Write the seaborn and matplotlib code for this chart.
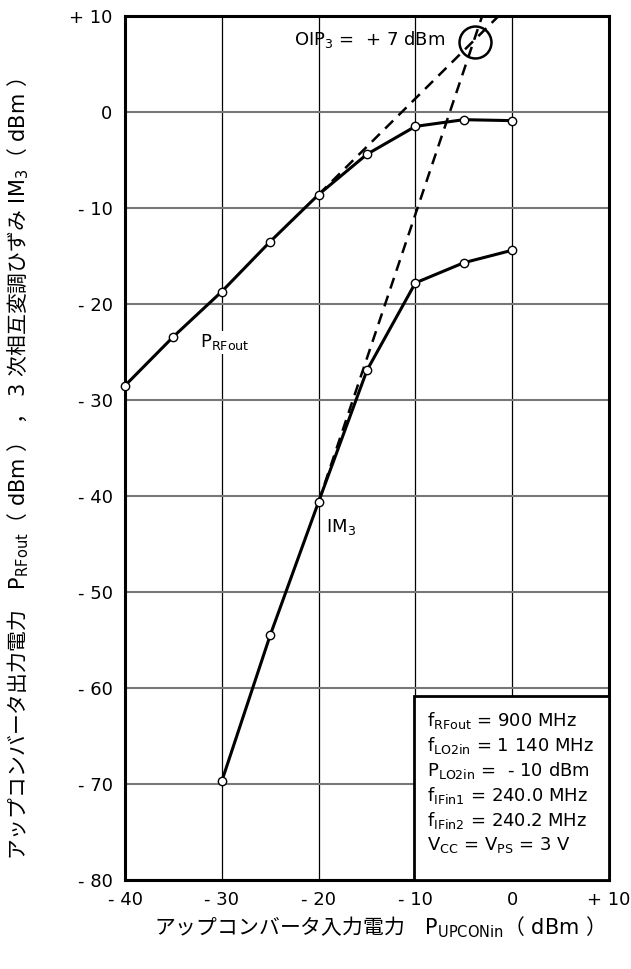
import numpy as np
import pandas as pd
import matplotlib
matplotlib.use("Agg")
import matplotlib.pyplot as plt
from matplotlib.patches import Rectangle
import seaborn as sns

# input power (dBm)
pin = [-40, -35, -30, -25, -20, -15, -10, -5, 0]
prfout = [-28.5, -23.4, -18.7, -13.5, -8.6, -4.4, -1.5, -0.8, -0.9]

pin_im3 = [-30, -25, -20, -15, -10, -5, 0]
im3 = [-69.7, -54.5, -40.6, -26.9, -17.8, -15.7, -14.4]

# extrapolated lines (slope 1 and slope 3)
ext_rf_x = [-20, -1.4]
ext_rf_y = [-8.6, 10]
ext_im3_x = [-20, -3.1]
ext_im3_y = [-40.6, 10]
oip3_x = -3.8
oip3_y = 7.3

xticks = [-40, -30, -20, -10, 0, 10]
xticklabels = ["- 40", "- 30", "- 20", "- 10", "0", "+ 10"]
yticks = [10, 0, -10, -20, -30, -40, -50, -60, -70, -80]
yticklabels = ["+ 10", "0", "- 10", "- 20", "- 30", "- 40", "- 50", "- 60", "- 70", "- 80"]

cond = ["f$_{\\mathrm{RFout}}$ = 900 MHz",
        "f$_{\\mathrm{LO2in}}$ = 1 140 MHz",
        "P$_{\\mathrm{LO2in}}$ =  - 10 dBm",
        "f$_{\\mathrm{IFin1}}$ = 240.0 MHz",
        "f$_{\\mathrm{IFin2}}$ = 240.2 MHz",
        "V$_{\\mathrm{CC}}$ = V$_{\\mathrm{PS}}$ = 3 V"]

sns.set_theme(style="white")
plt.rcParams['font.family'] = ['DejaVu Sans', 'Noto Sans CJK JP']
plt.rcParams['mathtext.fontset'] = 'custom'
plt.rcParams['mathtext.rm'] = 'DejaVu Sans'
plt.rcParams['mathtext.it'] = 'DejaVu Sans:italic'
plt.rcParams['mathtext.bf'] = 'DejaVu Sans:bold'
plt.rcParams['mathtext.sf'] = 'Noto Sans CJK JP'
for k in ['text.color', 'axes.labelcolor', 'xtick.color', 'ytick.color']:
    plt.rcParams[k] = 'black'

FS = 13
LFS = 15

fig = plt.figure(figsize=(6.31, 9.69), dpi=100)
ax = fig.add_axes([0.1981, 0.0918, 0.9651 - 0.1981, 0.9835 - 0.0918])

df_rf = pd.DataFrame({'pin': pin, 'pout': prfout})
df_im = pd.DataFrame({'pin': pin_im3, 'pout': im3})

sns.lineplot(data=df_rf, x='pin', y='pout', ax=ax, color='black', lw=2.2,
             marker='o', markersize=6, markerfacecolor='white',
             markeredgecolor='black', markeredgewidth=1.0, zorder=5, clip_on=False)
sns.lineplot(data=df_im, x='pin', y='pout', ax=ax, color='black', lw=2.2,
             marker='o', markersize=6, markerfacecolor='white',
             markeredgecolor='black', markeredgewidth=1.0, zorder=5, clip_on=False)

ax.plot(ext_rf_x, ext_rf_y, color='black', lw=1.8, ls=(0, (4.5, 3)), zorder=4)
ax.plot(ext_im3_x, ext_im3_y, color='black', lw=1.8, ls=(0, (4.5, 3)), zorder=4)
ax.plot([oip3_x], [oip3_y], marker='o', markersize=23, markerfacecolor='none',
        markeredgecolor='black', markeredgewidth=1.8, zorder=6)

ax.set_xlim(-40, 10)
ax.set_ylim(-80, 10)
ax.set_xticks(xticks)
ax.set_xticklabels(xticklabels, fontsize=FS)
ax.set_yticks(yticks)
ax.set_yticklabels(yticklabels, fontsize=FS)
ax.tick_params(length=0)
ax.tick_params(axis='y', pad=9)
ax.tick_params(axis='x', pad=8)

ax.xaxis.grid(True, color='black', lw=0.9)
ax.yaxis.grid(True, color='#777777', lw=1.5)
ax.set_axisbelow(True)
for s in ax.spines.values():
    s.set_color('black')
    s.set_linewidth(2.2)

# condition box
ax.add_patch(Rectangle((-10.1, -80), 20.1, 19.2, facecolor='white',
                       edgecolor='black', lw=2, zorder=3))
ax.text(-8.8, -62.3, "\n".join(cond), fontsize=FS, va='top', ha='left',
        linespacing=1.25, zorder=7)

ax.text(-6.9, 7.5, "OIP$_3$ =  + 7 dBm", fontsize=FS, ha='right', va='center', zorder=7)
ax.text(-32.3, -24.0, "P$_{\\mathrm{RFout}}$", fontsize=FS, ha='left', va='center',
        zorder=7, bbox=dict(facecolor='white', edgecolor='none', pad=1))
ax.text(-19.2, -43.2, "IM$_3$", fontsize=FS, ha='left', va='center', zorder=7)

ax.set_xlabel("$\\mathsf{アップコンバータ入力電力　}$P$_{\\mathrm{UPCONin}}$"
              "$\\mathsf{（}$ dBm $\\mathsf{）}$",
              fontsize=LFS)
ax.set_ylabel("$\\mathsf{アップコンバータ出力電力　}$P$_{\\mathrm{RFout}}$"
              "$\\mathsf{（}$ dBm $\\mathsf{）}$ $\\mathsf{，}$ 3 $\\mathsf{次相互変調ひずみ}$ "
              "IM$_3$$\\mathsf{（}$ dBm $\\mathsf{）}$",
              fontsize=LFS)
ax.xaxis.set_label_coords(0.514, -0.040)
ax.yaxis.set_label_coords(-0.1950, 0.476)

fig.savefig("out.png", dpi=100)
